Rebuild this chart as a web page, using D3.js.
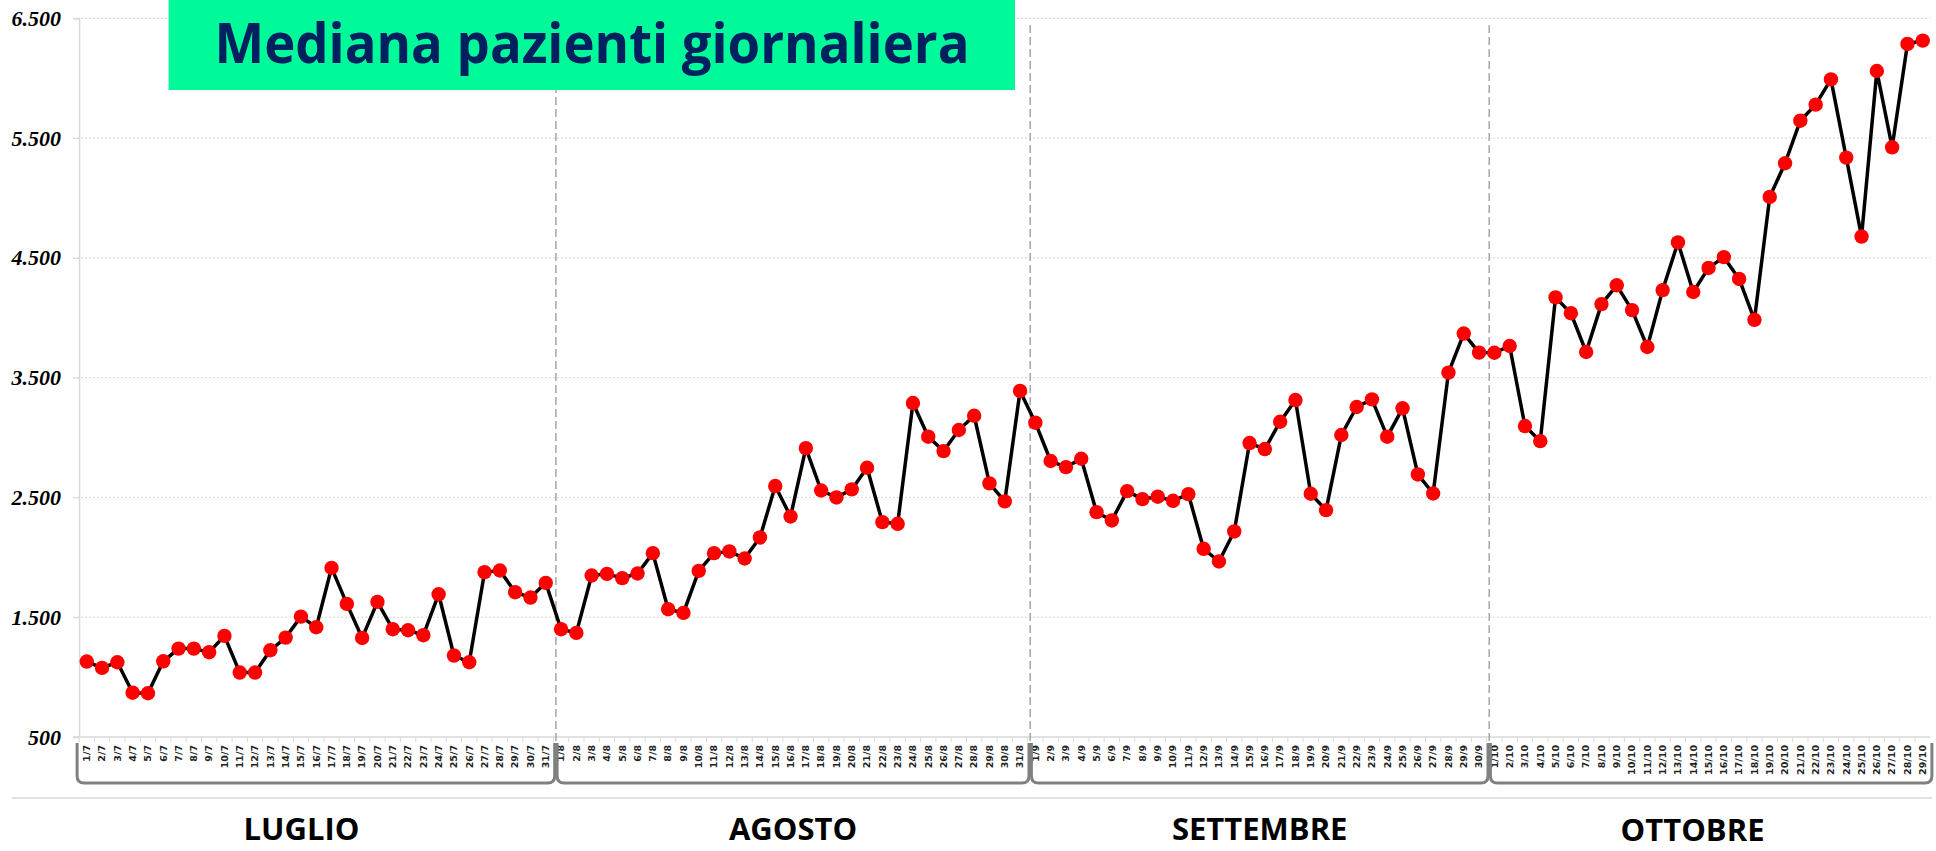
<!DOCTYPE html>
<html>
<head>
<meta charset="utf-8">
<script src="https://cdn.jsdelivr.net/npm/d3@7"></script>
<style>
	body { margin: 0; background: #fff; }
	svg { display: block; }
</style>
</head>
<body>
<div id="chart"></div>
<script>
////////////////////////////////////////////////////////
// mediana pazienti giornaliera, luglio - ottobre

const monthNames = ['LUGLIO', 'AGOSTO', 'SETTEMBRE', 'OTTOBRE'];
const monthNums = [7, 8, 9, 10];
const monthDays = [31, 31, 30, 29];

const luglio = [1130, 1077, 1124, 870, 865, 1132, 1238, 1238, 1208, 1344,
	1038, 1038, 1224, 1330, 1505, 1416, 1912, 1611, 1327, 1628,
	1400, 1391, 1350, 1692, 1180, 1124, 1876, 1890, 1709, 1664, 1787];
const agosto = [1400, 1369, 1848, 1862, 1826, 1865, 2035, 1567, 1536, 1887,
	2035, 2049, 1990, 2166, 2595, 2341, 2912, 2558, 2500, 2567,
	2748, 2294, 2280, 3288, 3007, 2887, 3063, 3182, 2617, 2467, 3389];
const settembre = [3124, 2804, 2753, 2823, 2377, 2308, 2553, 2486, 2506, 2472,
	2528, 2071, 1965, 2216, 2954, 2904, 3132, 3313, 2531, 2394,
	3021, 3255, 3319, 3007, 3244, 2692, 2533, 3542, 3868, 3709];
const ottobre = [3708, 3764, 3096, 2970, 4170, 4038, 3714, 4114, 4271, 4064,
	3756, 4231, 4629, 4215, 4416, 4506, 4324, 3983, 5009, 5290,
	5645, 5779, 5990, 5337, 4678, 6060, 5423, 6286, 6314];

const yTicks = [500, 1500, 2500, 3500, 4500, 5500, 6500];
const title = 'Mediana pazienti giornaliera';

const W = 1936, H = 851;
const plot = { left: 79.1, right: 1930.4, top: 18.3, bottom: 737 };
const monthLabelDx = [-15, 0, 0, -18];
const monthLabelDy = [0, 0, 0, 1];

// day labels "1/7" ... "29/10"
let labels = [];
monthNums.forEach((m, i) => {
	for (let d = 1; d <= monthDays[i]; d++) labels.push(d + '/' + m);
});
let values = [].concat(luglio, agosto, settembre, ottobre);
let data = labels.map((l, i) => ({ label: l, value: values[i] }));

const it = d3.formatLocale({ decimal: ',', thousands: '.', grouping: [3], currency: ['€', ''] });
const yformat = it.format(',d');

let x = d3.scaleBand()
	.domain(labels)
	.range([plot.left, plot.right]);

let y = d3.scaleLinear()
	.domain([500, 6500])
	.range([plot.bottom, plot.top]);

let svg = d3.select('#chart').append('svg')
	.attr('width', W)
	.attr('height', H)
	.attr('viewBox', `0 0 ${W} ${H}`);

// horizontal gridlines
svg.append('g')
	.attr('class', 'y gridline')
	.selectAll('line')
	.data(yTicks.slice(1))
	.join('line')
		.attr('x1', plot.left - 6)
		.attr('x2', plot.right)
		.attr('y1', d => y(d))
		.attr('y2', d => y(d))
		.attr('stroke', '#d4d4d4')
		.attr('stroke-width', 1)
		.attr('stroke-dasharray', '2,2');

// y axis
let yaxis = svg.append('g')
	.attr('class', 'yaxis')
	.attr('transform', `translate(${plot.left},0)`)
	.call(d3.axisLeft(y).tickValues(yTicks).tickFormat(yformat).tickSize(6).tickPadding(12));
yaxis.select('.domain').attr('stroke', '#d9d9d9').attr('stroke-width', 1.5);
yaxis.selectAll('.tick line').attr('stroke', '#d9d9d9');
yaxis.selectAll('text')
	.attr('fill', '#000')
	.style('font-family', '"Liberation Serif", serif')
	.style('font-weight', 'bold')
	.style('font-style', 'italic')
	.style('font-size', '22px');

// x axis
let xaxis = svg.append('g')
	.attr('class', 'xaxis')
	.attr('transform', `translate(0,${plot.bottom})`)
	.call(d3.axisBottom(x).tickSize(0).tickPadding(0));
xaxis.select('.domain').attr('stroke', '#d9d9d9').attr('stroke-width', 1.5)
	.attr('d', `M${plot.left - 6},0H${plot.right}`);
xaxis.selectAll('.tick text')
	.attr('transform', 'rotate(-90)')
	.attr('x', -8)
	.attr('y', 0)
	.attr('dy', '0.35em')
	.style('text-anchor', 'end')
	.attr('fill', '#222')
	.style('font-family', '"DejaVu Sans", sans-serif')
	.style('font-weight', 'bold')
	.style('font-size', '9.5px');

// small ticks between categories
svg.append('g')
	.selectAll('line')
	.data(labels)
	.join('line')
		.attr('x1', d => x(d))
		.attr('x2', d => x(d))
		.attr('y1', plot.bottom)
		.attr('y2', plot.bottom + 5)
		.attr('stroke', '#d9d9d9');

// month boundaries
let starts = [0];
monthDays.forEach((n, i) => starts.push(starts[i] + n));
let bounds = starts.map((s, i) => {
	if (i === 0) return x(labels[0]) - 2;
	if (i === starts.length - 1) return plot.right + 1.5;
	return x(labels[s]) + 2.5;
});

svg.append('g')
	.attr('class', 'separators')
	.selectAll('line')
	.data(bounds.slice(1, -1))
	.join('line')
		.attr('x1', d => d)
		.attr('x2', d => d)
		.attr('y1', 25)
		.attr('y2', plot.bottom + 4)
		.attr('stroke', '#a6a6a6')
		.attr('stroke-width', 1.5)
		.attr('stroke-dasharray', '8,4');

// brackets under the day labels
const bTop = 743, bBot = 783, r = 7;
svg.append('g')
	.attr('class', 'brackets')
	.selectAll('path')
	.data(monthNames)
	.join('path')
		.attr('d', (d, i) => {
			let x0 = bounds[i] + (i === 0 ? 0 : 1.2);
			let x1 = bounds[i + 1] - (i === monthNames.length - 1 ? 0 : 1.2);
			return `M${x0},${bTop}V${bBot - r}Q${x0},${bBot} ${x0 + r},${bBot}` +
				`H${x1 - r}Q${x1},${bBot} ${x1},${bBot - r}V${bTop}`;
		})
		.attr('fill', 'none')
		.attr('stroke', '#808080')
		.attr('stroke-width', 3);

// rule above month names
svg.append('line')
	.attr('x1', 11.5)
	.attr('x2', 1932)
	.attr('y1', 798)
	.attr('y2', 798)
	.attr('stroke', '#d9d9d9')
	.attr('stroke-width', 1.5);

svg.append('g')
	.attr('class', 'months')
	.selectAll('text')
	.data(monthNames)
	.join('text')
		.attr('x', (d, i) => (bounds[i] + bounds[i + 1]) / 2 + monthLabelDx[i])
		.attr('y', (d, i) => 840 + monthLabelDy[i])
		.attr('text-anchor', 'middle')
		.attr('fill', '#000')
		.style('font-family', '"Open Sans", sans-serif')
		.style('font-weight', 'bold')
		.style('font-size', '31px')
		.text(d => d);

// series
let line = d3.line()
	.x(d => x(d.label) + x.bandwidth() / 2)
	.y(d => y(d.value));

svg.append('path')
	.datum(data)
	.attr('d', line)
	.attr('fill', 'none')
	.attr('stroke', '#000')
	.attr('stroke-width', 3.5)
	.attr('stroke-linejoin', 'round');

svg.append('g')
	.attr('class', 'dots')
	.selectAll('circle')
	.data(data)
	.join('circle')
		.attr('cx', d => x(d.label) + x.bandwidth() / 2)
		.attr('cy', d => y(d.value))
		.attr('r', 7.2)
		.attr('fill', '#ff0000');

// title box
svg.append('rect')
	.attr('x', 168.6)
	.attr('y', 0)
	.attr('width', 1015 - 168.6)
	.attr('height', 90)
	.attr('fill', '#00fa9a');

svg.append('text')
	.attr('x', 592)
	.attr('y', 63)
	.attr('text-anchor', 'middle')
	.attr('fill', '#002060')
	.attr('textLength', 755)
	.attr('lengthAdjust', 'spacingAndGlyphs')
	.style('font-family', '"Open Sans", sans-serif')
	.style('font-weight', 'bold')
	.style('font-size', '56px')
	.text(title);
</script>
</body>
</html>
